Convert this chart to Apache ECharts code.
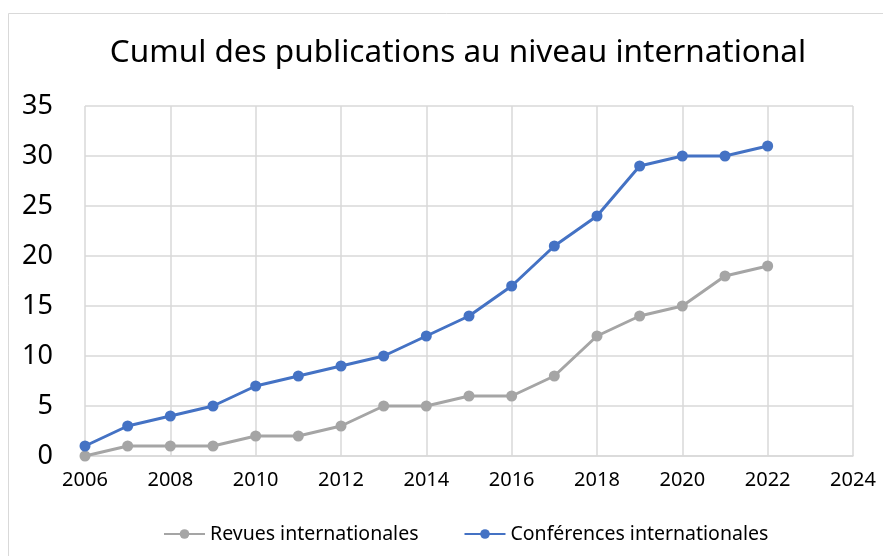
<!DOCTYPE html>
<html>
<head>
<meta charset="utf-8">
<script src="https://cdn.jsdelivr.net/npm/echarts@6/dist/echarts.min.js"></script>
<style>html,body{margin:0;padding:0;background:#fff}#c{width:883px;height:556px}</style>
</head>
<body>
<div id="c"></div>
<script>
const years = [2006,2007,2008,2009,2010,2011,2012,2013,2014,2015,2016,2017,2018,2019,2020,2021,2022];
const revues = [0,1,1,1,2,2,3,5,5,6,6,8,12,14,15,18,19];
const conferences = [1,3,4,5,7,8,9,10,12,14,17,21,24,29,30,30,31];
const seriesNames = ['Revues internationales','Conférences internationales'];
const titleText = 'Cumul des publications au niveau international';

const FONT = '"Noto Sans", sans-serif';
const chart = echarts.init(document.getElementById('c'), null, {renderer:'canvas'});
const pairs = arr => years.map((y,i)=>[y,arr[i]]);
chart.setOption({
  backgroundColor:'#fff',
  animation:false,
  graphic:[{type:'rect',shape:{x:8.5,y:13.5,width:900,height:600},style:{fill:'none',stroke:'#D9D9D9',lineWidth:1}}],
  title:{text:titleText,left:453,top:32,textAlign:'center',
    textStyle:{fontFamily:FONT,fontSize:31.5,fontWeight:'normal',color:'#000'}},
  legend:{left:158,top:519,itemWidth:41,itemHeight:12,itemGap:45,
    textStyle:{fontFamily:FONT,fontSize:19.5,color:'#000'},
    data:seriesNames},
  grid:{left:85,right:30,top:106,bottom:100,containLabel:false},
  xAxis:{type:'value',min:2006,max:2024,interval:2,
    axisLine:{show:true,lineStyle:{color:'#D9D9D9',width:1.5}},
    axisTick:{show:false},
    splitLine:{show:true,lineStyle:{color:'#D9D9D9',width:1.5}},
    axisLabel:{fontFamily:FONT,fontSize:20,color:'#000',margin:14,formatter:v=>String(v)}},
  yAxis:{type:'value',min:0,max:35,interval:5,
    axisLine:{show:false},axisTick:{show:false},
    splitLine:{show:true,lineStyle:{color:'#D9D9D9',width:1.5}},
    axisLabel:{fontFamily:FONT,fontSize:27,color:'#000',margin:32}},
  series:[
    {name:seriesNames[0],type:'line',data:pairs(revues),symbol:'circle',symbolSize:11,
     lineStyle:{color:'#A5A5A5',width:3},itemStyle:{color:'#A5A5A5'},z:2},
    {name:seriesNames[1],type:'line',data:pairs(conferences),symbol:'circle',symbolSize:11,
     lineStyle:{color:'#4472C4',width:3},itemStyle:{color:'#4472C4'},z:3}
  ]
});
</script>
</body>
</html>
